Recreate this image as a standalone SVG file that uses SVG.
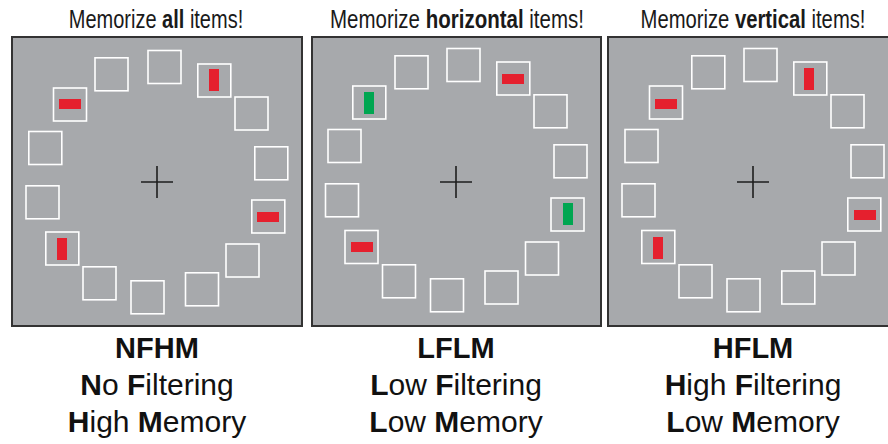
<svg xmlns="http://www.w3.org/2000/svg" width="888" height="444" viewBox="0 0 888 444">
<style>
.bg{fill:#ffffff}
.panel{fill:#a7a9ac;stroke:#333333;stroke-width:2}
.sq{fill:none;stroke:#ffffff;stroke-width:1.6}
.red{fill:#e5202e}
.grn{fill:#00a651}
.cross{stroke:#1e1e1e;stroke-width:1.6;fill:none}
.title{font-family:"Liberation Sans",Arial,sans-serif;font-size:25px;fill:#1a1a1a;text-anchor:middle}
.lab{font-family:"Liberation Sans",Arial,sans-serif;font-size:30px;fill:#111111;text-anchor:middle}
.head{font-family:"Liberation Sans",Arial,sans-serif;font-size:29px;font-weight:bold;fill:#111111;text-anchor:middle}
.b{font-weight:bold}
</style>
<rect class="bg" x="0" y="0" width="888" height="444"/>

<g id="panel-nfhm">
<g transform="translate(156,28) scale(0.8,1)"><text class="title" x="0" y="0">Memorize <tspan class="b">all</tspan> items!</text></g>
<rect class="panel" x="12" y="37" width="290" height="289"/>
<rect class="sq" x="95" y="57.8" width="33" height="33"/>
<rect class="sq" x="148" y="50.5" width="33" height="33"/>
<rect class="sq" x="197.8" y="64" width="33" height="33"/>
<rect class="sq" x="53.5" y="88" width="33" height="33"/>
<rect class="sq" x="235" y="97" width="33" height="33"/>
<rect class="sq" x="28.8" y="131.5" width="33" height="33"/>
<rect class="sq" x="254.8" y="146.8" width="33" height="33"/>
<rect class="sq" x="26" y="185.8" width="33" height="33"/>
<rect class="sq" x="251.8" y="200" width="33" height="33"/>
<rect class="sq" x="45.8" y="232" width="33" height="33"/>
<rect class="sq" x="83" y="266.8" width="33" height="33"/>
<rect class="sq" x="131" y="280.8" width="33" height="33"/>
<rect class="sq" x="185.5" y="272.8" width="33" height="33"/>
<rect class="sq" x="226" y="244" width="33" height="33"/>
<rect class="red" x="209" y="69" width="10" height="22"/>
<rect class="red" x="59" y="99" width="22" height="10"/>
<rect class="red" x="257" y="212" width="22" height="10"/>
<rect class="red" x="57" y="238" width="10" height="22"/>
<path class="cross" d="M141 182H173M157 166V198"/>
<text class="head" x="157" y="358">NFHM</text>
<text class="lab" x="157" y="395"><tspan class="b">N</tspan>o <tspan class="b">F</tspan>iltering</text>
<text class="lab" x="157" y="432"><tspan class="b">H</tspan>igh <tspan class="b">M</tspan>emory</text>
</g>

<g id="panel-lflm">
<g transform="translate(457,28) scale(0.82,1)"><text class="title" x="0" y="0">Memorize <tspan class="b">horizontal</tspan> items!</text></g>
<rect class="panel" x="312" y="37" width="289" height="289"/>
<rect class="sq" x="395" y="55.8" width="33" height="33"/>
<rect class="sq" x="447" y="48.5" width="33" height="33"/>
<rect class="sq" x="496.8" y="62" width="33" height="33"/>
<rect class="sq" x="352.8" y="86" width="33" height="33"/>
<rect class="sq" x="534" y="94.8" width="33" height="33"/>
<rect class="sq" x="328" y="129.5" width="33" height="33"/>
<rect class="sq" x="554" y="144.8" width="33" height="33"/>
<rect class="sq" x="325.5" y="183.8" width="33" height="33"/>
<rect class="sq" x="551" y="198" width="33" height="33"/>
<rect class="sq" x="345" y="230.5" width="33" height="33"/>
<rect class="sq" x="382.5" y="264.8" width="33" height="33"/>
<rect class="sq" x="430.5" y="278.8" width="33" height="33"/>
<rect class="sq" x="485" y="271" width="33" height="33"/>
<rect class="sq" x="525.5" y="242" width="33" height="33"/>
<rect class="red" x="502" y="74" width="22" height="10"/>
<rect class="grn" x="364" y="92" width="10" height="22"/>
<rect class="grn" x="563" y="203" width="10" height="22"/>
<rect class="red" x="351" y="242" width="22" height="10"/>
<path class="cross" d="M440 182H472M456 166V198"/>
<text class="head" x="456" y="358">LFLM</text>
<text class="lab" x="456" y="395"><tspan class="b">L</tspan>ow <tspan class="b">F</tspan>iltering</text>
<text class="lab" x="456" y="432"><tspan class="b">L</tspan>ow <tspan class="b">M</tspan>emory</text>
</g>

<g id="panel-hflm">
<g transform="translate(753,28) scale(0.81,1)"><text class="title" x="0" y="0">Memorize <tspan class="b">vertical</tspan> items!</text></g>
<rect class="panel" x="608" y="37" width="290" height="289"/>
<rect class="sq" x="691.8" y="55.8" width="33" height="33"/>
<rect class="sq" x="744" y="48.5" width="33" height="33"/>
<rect class="sq" x="793.8" y="62" width="33" height="33"/>
<rect class="sq" x="649.5" y="86" width="33" height="33"/>
<rect class="sq" x="831" y="94.8" width="33" height="33"/>
<rect class="sq" x="625" y="129.5" width="33" height="33"/>
<rect class="sq" x="851" y="144.8" width="33" height="33"/>
<rect class="sq" x="622" y="183.8" width="33" height="33"/>
<rect class="sq" x="847.8" y="198" width="33" height="33"/>
<rect class="sq" x="641.8" y="230.5" width="33" height="33"/>
<rect class="sq" x="679" y="264.8" width="33" height="33"/>
<rect class="sq" x="727" y="278.8" width="33" height="33"/>
<rect class="sq" x="781.8" y="271" width="33" height="33"/>
<rect class="sq" x="822" y="242" width="33" height="33"/>
<rect class="red" x="804" y="68" width="10" height="22"/>
<rect class="red" x="655" y="99" width="22" height="10"/>
<rect class="red" x="854" y="210" width="22" height="10"/>
<rect class="red" x="653" y="237" width="10" height="22"/>
<path class="cross" d="M737 182H769M753 166V198"/>
<text class="head" x="753" y="358">HFLM</text>
<text class="lab" x="753" y="395"><tspan class="b">H</tspan>igh <tspan class="b">F</tspan>iltering</text>
<text class="lab" x="753" y="432"><tspan class="b">L</tspan>ow <tspan class="b">M</tspan>emory</text>
</g>
</svg>
